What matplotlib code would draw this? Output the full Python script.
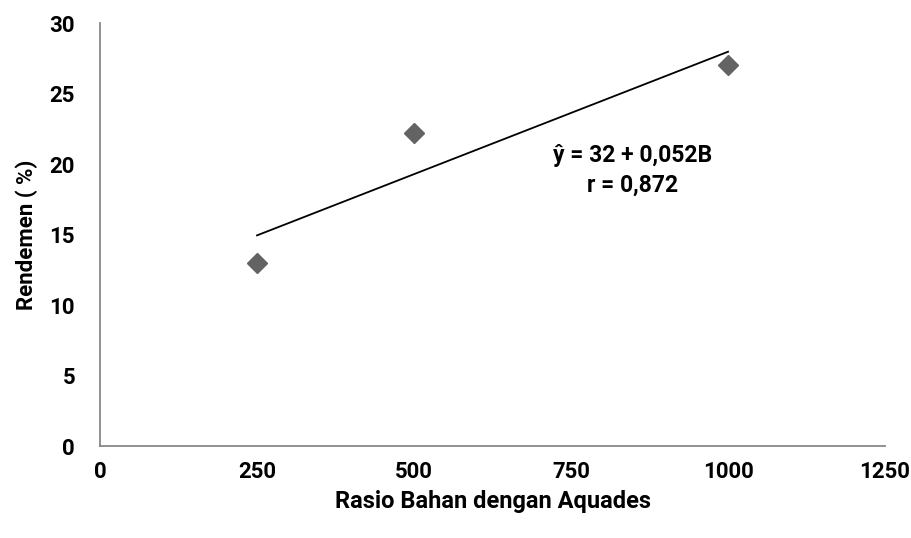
import numpy as np
import matplotlib.pyplot as plt

plt.rcParams['font.family'] = ['Roboto', 'DejaVu Sans']

# data
rasio = [250, 500, 1000]
rendemen = [13.0, 22.2, 27.0]
x_ticks = [0, 250, 500, 750, 1000, 1250]
y_ticks = [0, 5, 10, 15, 20, 25, 30]

fig = plt.figure(figsize=(9.11, 5.38), dpi=100)
ax = fig.add_axes([0.1098, 0.171, 0.8617, 0.786])

ax.plot(rasio, rendemen, linestyle='none', marker='D', markersize=10,
        color='#636363', zorder=3)

b, a = np.polyfit(rasio, rendemen, 1)
xs = np.array([rasio[0], rasio[-1]])
ax.plot(xs, a + b * xs, color='black', linewidth=1.3)

ax.text(848, 20.6, 'ŷ = 32 + 0,052B', ha='center', va='center',
        fontsize=16.5, fontweight='bold')
ax.text(848, 18.5, 'r = 0,872', ha='center', va='center',
        fontsize=16.5, fontweight='bold')

ax.set_xlim(0, 1250)
ax.set_ylim(0, 30)
ax.set_xticks(x_ticks)
ax.set_yticks(y_ticks)
ax.tick_params(length=0, labelsize=16, colors='black')
ax.tick_params(axis='y', pad=18)
ax.tick_params(axis='x', pad=11)
for lbl in ax.get_xticklabels() + ax.get_yticklabels():
    lbl.set_fontweight('bold')

for s in ['top', 'right']:
    ax.spines[s].set_visible(False)
for s in ['left', 'bottom']:
    ax.spines[s].set_color('#888888')
    ax.spines[s].set_linewidth(1.3)

ax.set_xlabel('Rasio Bahan dengan Aquades', fontsize=17, fontweight='bold', labelpad=5)
ax.set_ylabel('Rendemen ( %)', fontsize=16, fontweight='bold', labelpad=8)

fig.savefig('out.png', dpi=100)
